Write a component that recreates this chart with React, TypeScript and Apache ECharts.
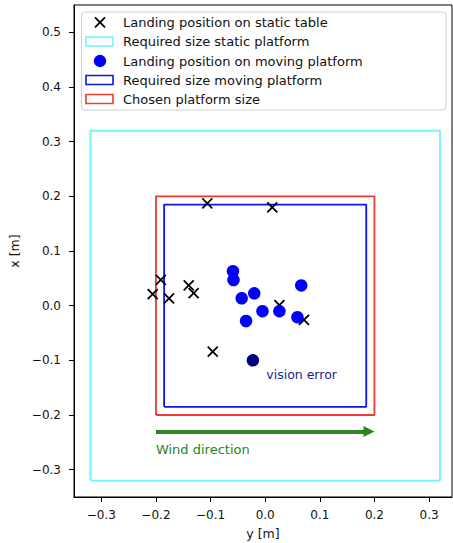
import React, { useEffect, useRef } from "react";
import * as echarts from "echarts";

// Landing positions on static table: horizontal = y [m], vertical = x [m]
const staticY = [-0.106, 0.013, -0.191, -0.206, -0.176, -0.14, -0.131, 0.026, 0.071, -0.096];
const staticX = [0.187, 0.18, 0.047, 0.021, 0.0135, 0.037, 0.023, 0.001, -0.026, -0.084];

// Landing positions on moving platform
const movingY = [-0.059, -0.058, 0.066, -0.02, -0.043, -0.005, 0.026, 0.059, -0.035];
const movingX = [0.063, 0.047, 0.037, 0.0226, 0.0135, -0.01, -0.01, -0.021, -0.028];

// Vision error landing
const visionY = [-0.0225];
const visionX = [-0.1];

// Half sizes of platforms
const staticHalf = 0.32;
const movingHalf = 0.185;
const chosenHalf = 0.2;

const xTicks = [-0.3, -0.2, -0.1, 0.0, 0.1, 0.2, 0.3];
const yTicks = [-0.3, -0.2, -0.1, 0.0, 0.1, 0.2, 0.3, 0.4, 0.5];

const windStart = [-0.2, -0.23];
const windEnd = [0.19, -0.23];
const windLabelPos = [-0.2, -0.264];
const visionLabelPos = [0.002, -0.125];

const legendLabels = [
  "Landing position on static table",
  "Required size static platform",
  "Landing position on moving platform",
  "Required size moving platform",
  "Chosen platform size",
];

const FONT = "DejaVu Sans";
const CYAN = "#6ff7f7";
const BLUE = "#0a14f0";
const RED = "#ee3a30";
const GREEN = "#2d8420";
const NAVY = "#1a1a96";

const rectPts = (h: number) => [
  [-h, -h],
  [h, -h],
  [h, h],
  [-h, h],
  [-h, -h],
];

const fmt = (v: number) => v.toFixed(1).replace("-", "\u2212");

const CROSS = "path://M0,0L10,10M10,0L0,10";

export default function App() {
  const ref = useRef<HTMLDivElement>(null);
  useEffect(() => {
    if (!ref.current) return;
    const chart = echarts.init(ref.current, undefined, { renderer: "svg" });

    const rowY = [22.3, 41.5, 61, 80, 99];
    const iconX = 86;
    const iconW = 27;
    const iconH = 9;
    const legendGraphics: any[] = [
      {
        type: "rect",
        shape: { x: 81.5, y: 12, width: 364.5, height: 98, r: 3 },
        style: { fill: "rgba(255,255,255,0.85)", stroke: "#d0d0d0", lineWidth: 1 },
        z: 100,
      },
      {
        type: "line",
        shape: { x1: 95, y1: rowY[0] - 5, x2: 105, y2: rowY[0] + 5 },
        style: { stroke: "#000", lineWidth: 1.8 },
        z: 101,
      },
      {
        type: "line",
        shape: { x1: 105, y1: rowY[0] - 5, x2: 95, y2: rowY[0] + 5 },
        style: { stroke: "#000", lineWidth: 1.8 },
        z: 101,
      },
      {
        type: "rect",
        shape: { x: iconX, y: rowY[1] - iconH / 2, width: iconW, height: iconH },
        style: { fill: "none", stroke: CYAN, lineWidth: 1.6 },
        z: 101,
      },
      {
        type: "circle",
        shape: { cx: 100, cy: rowY[2], r: 6.2 },
        style: { fill: "#0000ff" },
        z: 101,
      },
      {
        type: "rect",
        shape: { x: iconX, y: rowY[3] - iconH / 2, width: iconW, height: iconH },
        style: { fill: "none", stroke: BLUE, lineWidth: 1.6 },
        z: 101,
      },
      {
        type: "rect",
        shape: { x: iconX, y: rowY[4] - iconH / 2, width: iconW, height: iconH },
        style: { fill: "none", stroke: RED, lineWidth: 1.6 },
        z: 101,
      },
      ...legendLabels.map((t, i) => ({
        type: "text",
        x: 123,
        y: rowY[i],
        style: {
          text: t,
          fontFamily: FONT,
          fontSize: 13,
          fill: "#111",
          textVerticalAlign: "middle",
          verticalAlign: "middle",
        },
        z: 101,
      })),
    ];

    const option: any = {
      animation: false,
      backgroundColor: "#fff",
      grid: {
        left: 74,
        right: 1,
        top: 5,
        bottom: 46,
        show: true,
        borderColor: "#000",
        borderWidth: 1,
        backgroundColor: "transparent",
        containLabel: false,
        outerBoundsMode: "none",
      },
      xAxis: {
        type: "value",
        min: -0.35,
        max: 0.342,
        name: "y [m]",
        nameLocation: "middle",
        nameGap: 30,
        nameTextStyle: { fontFamily: FONT, fontSize: 12.5, color: "#111" },
        axisLine: { show: true, onZero: false, lineStyle: { color: "#000" } },
        axisTick: { show: true, length: 5, customValues: xTicks, lineStyle: { color: "#000" } },
        axisLabel: {
          customValues: xTicks,
          formatter: (v: number) => fmt(v),
          fontFamily: FONT,
          fontSize: 12,
          color: "#111",
          margin: 12,
        },
        splitLine: { show: false },
      },
      yAxis: {
        type: "value",
        min: -0.35,
        max: 0.55,
        name: "x [m]",
        nameLocation: "middle",
        nameGap: 51,
        nameRotate: 90,
        nameTextStyle: { fontFamily: FONT, fontSize: 12.5, color: "#111" },
        axisLine: { show: true, onZero: false, lineStyle: { color: "#000" } },
        axisTick: { show: true, length: 5, customValues: yTicks, lineStyle: { color: "#000" } },
        axisLabel: {
          customValues: yTicks,
          formatter: (v: number) => fmt(v),
          fontFamily: FONT,
          fontSize: 12,
          color: "#111",
          margin: 13,
        },
        splitLine: { show: false },
      },
      series: [
        {
          name: "Required size static platform",
          type: "line",
          data: rectPts(staticHalf),
          symbol: "none",
          lineStyle: { color: CYAN, width: 1.8 },
          z: 2,
        },
        {
          name: "Chosen platform size",
          type: "line",
          data: rectPts(chosenHalf),
          symbol: "none",
          lineStyle: { color: RED, width: 1.8 },
          z: 2,
        },
        {
          name: "Required size moving platform",
          type: "line",
          data: rectPts(movingHalf),
          symbol: "none",
          lineStyle: { color: BLUE, width: 1.8 },
          z: 2,
        },
        {
          name: "Landing position on static table",
          type: "scatter",
          data: staticY.map((y, i) => [y, staticX[i]]),
          symbol: CROSS,
          symbolSize: 10,
          itemStyle: { color: "none", borderColor: "#000", borderWidth: 1.8, opacity: 1 },
          z: 3,
        },
        {
          name: "Landing position on moving platform",
          type: "scatter",
          data: movingY.map((y, i) => [y, movingX[i]]),
          symbol: "circle",
          symbolSize: 12.5,
          itemStyle: { color: "#0000ff", opacity: 1 },
          z: 4,
        },
        {
          name: "Vision error",
          type: "scatter",
          data: visionY.map((y, i) => [y, visionX[i]]),
          symbol: "circle",
          symbolSize: 12.5,
          itemStyle: { color: "#000080", opacity: 1 },
          z: 4,
        },
        {
          name: "Wind",
          type: "lines",
          coordinateSystem: "cartesian2d",
          data: [{ coords: [windStart, windEnd] }],
          symbol: ["none", "triangle"],
          symbolSize: 11,
          lineStyle: { color: GREEN, width: 4, opacity: 1 },
          z: 3,
        },
        {
          name: "Annotations",
          type: "scatter",
          symbolSize: 0,
          itemStyle: { opacity: 1 },
          data: [
            {
              value: windLabelPos,
              label: {
                show: true,
                formatter: "Wind direction",
                position: "inside",
                align: "left",
                verticalAlign: "middle",
                color: GREEN,
                opacity: 1,
                fontFamily: FONT,
                fontSize: 13,
              },
            },
            {
              value: visionLabelPos,
              label: {
                show: true,
                formatter: "vision error",
                position: "inside",
                align: "left",
                verticalAlign: "middle",
                color: NAVY,
                opacity: 1,
                fontFamily: FONT,
                fontSize: 12.5,
              },
            },
          ],
          z: 5,
        },
      ],
      graphic: legendGraphics,
    };
    chart.setOption(option);
    return () => chart.dispose();
  }, []);
  return (
    <div
      ref={ref}
      style={{ position: "fixed", left: 0, top: 0, width: 453, height: 543, background: "#fff" }}
    />
  );
}
